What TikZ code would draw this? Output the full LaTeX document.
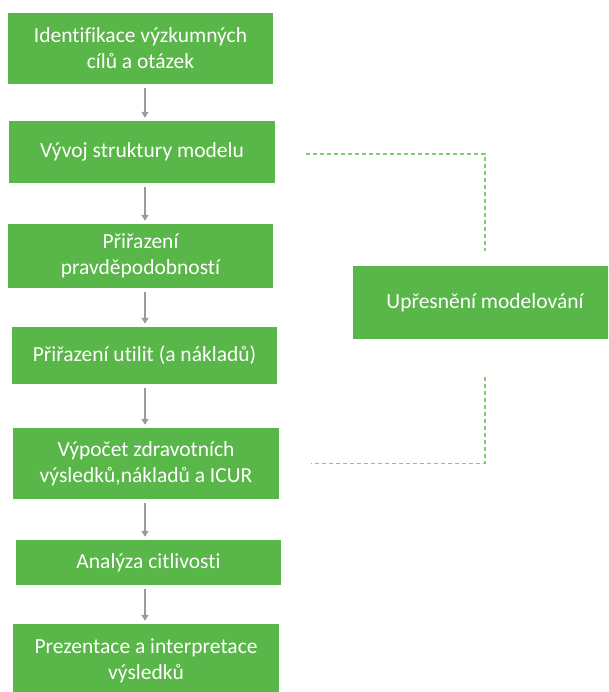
\documentclass[tikz,border=0pt]{standalone}
\usepackage{fontspec}
\setmainfont[Ligatures={NoCommon}]{Carlito}
\usetikzlibrary{arrows.meta}
\definecolor{boxgreen}{RGB}{89,182,72}
\definecolor{dashgreen}{RGB}{130,205,115}
\definecolor{arrgray}{RGB}{155,155,155}
\tikzset{
  stepbox/.style={fill=boxgreen, draw=none, text=white, align=center, inner sep=0pt,
    font=\fontsize{21.5}{26}\selectfont},
  arr/.style={draw=arrgray, line width=1.6pt, -{Triangle[width=7pt,length=6pt]},
    shorten <=4pt, shorten >=3pt},
  dashline/.style={draw=dashgreen, line width=1.7pt, dash pattern=on 4pt off 3pt}
}
\begin{document}
\begin{tikzpicture}[x=1pt,y=-1pt]
\useasboundingbox (0,0) rectangle (608,692);
\clip (0,0) rectangle (608,692);
\node[stepbox, minimum width=265pt, minimum height=71pt] (b1) at (140.5,48.5) {Identifikace výzkumných\\cílů a otázek};
\node[stepbox, minimum width=266pt, minimum height=62pt] (b2) at (142,152) {Vývoj struktury modelu};
\node[stepbox, minimum width=265pt, minimum height=64pt] (b3) at (140.5,256) {Přiřazení\\pravděpodobností};
\node[stepbox, minimum width=265pt, minimum height=57pt] (b4) at (144.5,355.5) {Přiřazení utilit (a nákladů)};
\node[stepbox, minimum width=266pt, minimum height=71pt] (b5) at (146,463.5) {Výpočet zdravotních\\výsledků,nákladů a ICUR};
\node[stepbox, minimum width=265pt, minimum height=45pt] (b6) at (148.5,562.5) {Analýza citlivosti};
\node[stepbox, minimum width=266pt, minimum height=74pt] (b7) at (146,661) {Prezentace a interpretace\\výsledků};
\node[stepbox, minimum width=264pt, minimum height=73pt] (r) at (485,302.5) {Upřesnění modelování};
\coordinate (ax) at (145,0);
\draw[arr] (b1.south -| ax) -- (b2.north -| ax);
\draw[arr] (b2.south -| ax) -- (b3.north -| ax);
\draw[arr] (b3.south -| ax) -- (b4.north -| ax);
\draw[arr] (b4.south -| ax) -- (b5.north -| ax);
\draw[arr] (b5.south -| ax) -- (b6.north -| ax);
\draw[arr] (b6.south -| ax) -- (b7.north -| ax);
\draw[dashline] ([xshift=31pt,yshift=-2pt]b2.east) -| ([yshift=15pt]r.north);
\draw[dashline] ([yshift=-38pt]r.south) |- ([xshift=32pt]b5.east);
\end{tikzpicture}
\end{document}
